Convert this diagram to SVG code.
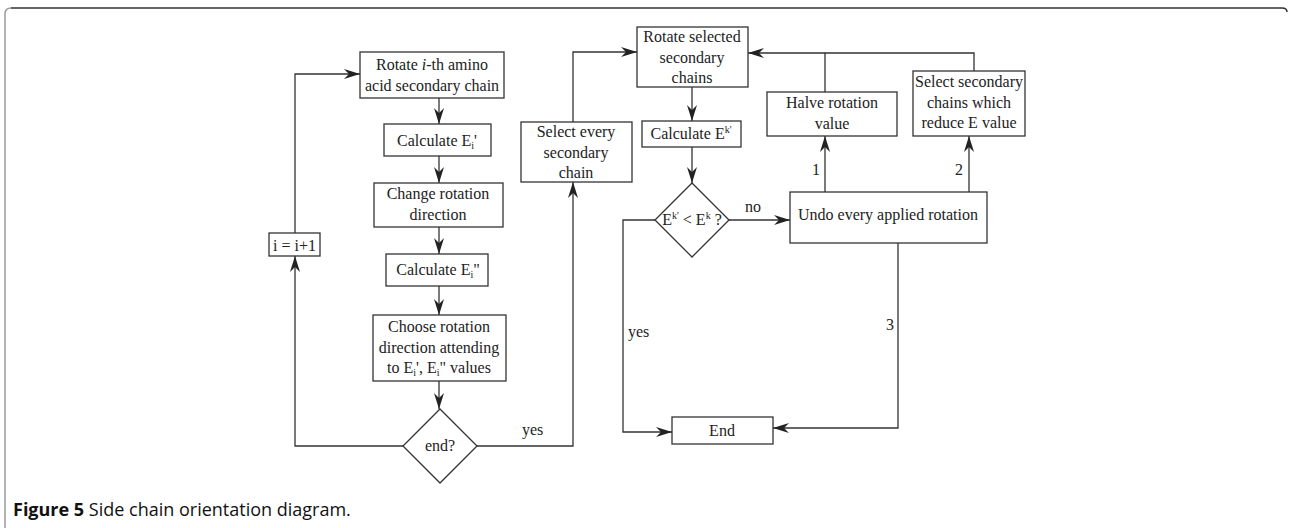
<svg xmlns="http://www.w3.org/2000/svg" width="1289" height="528" viewBox="0 0 1289 528">
<style>
.box{fill:#fff;stroke:#333;stroke-width:1.3}
.t{font-family:"Liberation Serif","Times New Roman",serif;font-size:16px;fill:#222;text-anchor:middle}
.l{font-family:"Liberation Serif","Times New Roman",serif;font-size:16px;fill:#222}
.c{fill:none;stroke:#333;stroke-width:1.3}
.s{font-size:10px}
.cap{font-family:"Open Sans","Noto Sans",sans-serif;font-size:18px;fill:#111}
</style>
<defs>
<marker id="ah" viewBox="0 0 16 10" refX="16" refY="5" markerWidth="16" markerHeight="10" markerUnits="userSpaceOnUse" orient="auto">
<path d="M0,0 L16,5 L0,10 L5,5 z" fill="#222"/>
</marker>
</defs>
<rect width="1289" height="528" fill="#fff"/>
<g id="frame">
<path d="M5,528 V14 Q5,8 11,8" fill="none" stroke="#999" stroke-width="1.5"/>
<path d="M11,8 H1282 Q1287,8 1287,12" fill="none" stroke="#333" stroke-width="1.5"/>
</g>
<g id="connectors">
<line class="c" x1="439" y1="98" x2="439" y2="124" marker-end="url(#ah)"/>
<line class="c" x1="439" y1="156" x2="439" y2="183" marker-end="url(#ah)"/>
<line class="c" x1="439" y1="227" x2="439" y2="254" marker-end="url(#ah)"/>
<line class="c" x1="439" y1="286" x2="439" y2="315" marker-end="url(#ah)"/>
<line class="c" x1="439" y1="381" x2="439" y2="409" marker-end="url(#ah)"/>
<polyline class="c" points="403,446 295,446 295,256" marker-end="url(#ah)"/>
<polyline class="c" points="295,233 295,74 360,74" marker-end="url(#ah)"/>
<polyline class="c" points="477,446 573,446 573,182" marker-end="url(#ah)"/>
<polyline class="c" points="573,122 573,52 637,52" marker-end="url(#ah)"/>
<line class="c" x1="692" y1="87" x2="692" y2="121" marker-end="url(#ah)"/>
<line class="c" x1="692" y1="147" x2="692" y2="183" marker-end="url(#ah)"/>
<line class="c" x1="728" y1="220" x2="790" y2="220" marker-end="url(#ah)"/>
<polyline class="c" points="655,220 623,220 623,432 672,432" marker-end="url(#ah)"/>
<line class="c" x1="825" y1="192" x2="825" y2="136" marker-end="url(#ah)"/>
<line class="c" x1="969" y1="192" x2="969" y2="136" marker-end="url(#ah)"/>
<polyline class="c" points="825,92 825,53 748,53" marker-end="url(#ah)"/>
<polyline class="c" points="974,71 974,53 825,53"/>
<polyline class="c" points="898,243 898,428 773,428" marker-end="url(#ah)"/>
<text class="l" x="522" y="435">yes</text>
<text class="l" x="745" y="212">no</text>
<text class="l" x="628" y="337">yes</text>
<text class="l" x="812" y="175">1</text>
<text class="l" x="955" y="175">2</text>
<text class="l" x="886" y="330">3</text>
</g>
<g id="n-rotate-i">
<rect class="box" x="360" y="52" width="144" height="46"/>
<text class="t" x="432" y="70">Rotate <tspan font-style="italic">i</tspan>-th amino</text>
<text class="t" x="432" y="91">acid secondary chain</text>
</g>
<g id="n-calc-e1">
<rect class="box" x="384" y="124" width="107" height="32"/>
<text class="t" x="437" y="146">Calculate E<tspan class="s" dy="3">i</tspan><tspan dy="-3">'</tspan></text>
</g>
<g id="n-change">
<rect class="box" x="374" y="183" width="129" height="44"/>
<text class="t" x="438" y="199">Change rotation</text>
<text class="t" x="438" y="220">direction</text>
</g>
<g id="n-calc-e2">
<rect class="box" x="386" y="254" width="102" height="32"/>
<text class="t" x="438" y="275">Calculate E<tspan class="s" dy="3">i</tspan><tspan dy="-3">"</tspan></text>
</g>
<g id="n-choose">
<rect class="box" x="373" y="315" width="133" height="66"/>
<text class="t" x="439" y="332">Choose rotation</text>
<text class="t" x="439" y="353">direction attending</text>
<text class="t" x="439" y="373">to E<tspan class="s" dy="3">i</tspan><tspan dy="-3">',  E</tspan><tspan class="s" dy="3">i</tspan><tspan dy="-3">" values</tspan></text>
</g>
<g id="n-end-q">
<polygon class="box" points="440,409 477,446 440,483 403,446"/>
<text class="t" x="440" y="451">end?</text>
</g>
<g id="n-inc">
<rect class="box" x="269" y="233" width="51" height="23"/>
<text class="t" x="294.5" y="251">i = i+1</text>
</g>
<g id="n-select-every">
<rect class="box" x="521" y="122" width="111" height="60"/>
<text class="t" x="576" y="137">Select every</text>
<text class="t" x="576" y="158">secondary</text>
<text class="t" x="576" y="178">chain</text>
</g>
<g id="n-rotate-sel">
<rect class="box" x="637" y="27" width="111" height="60"/>
<text class="t" x="692" y="42">Rotate selected</text>
<text class="t" x="692" y="63">secondary</text>
<text class="t" x="692" y="83">chains</text>
</g>
<g id="n-calc-ek">
<rect class="box" x="642" y="121" width="99" height="26"/>
<text class="t" x="691" y="139">Calculate E<tspan class="s" dy="-6">k'</tspan></text>
</g>
<g id="n-cmp">
<polygon class="box" points="692,183 729,220 692,257 655,220"/>
<text class="t" x="692" y="225">E<tspan class="s" dy="-6">k'</tspan><tspan dy="6"> &lt; E</tspan><tspan class="s" dy="-6">k</tspan><tspan dy="6"> ?</tspan></text>
</g>
<g id="n-undo">
<rect class="box" x="790" y="192" width="197" height="51"/>
<text class="t" x="888" y="220">Undo every applied rotation</text>
</g>
<g id="n-halve">
<rect class="box" x="767" y="92" width="130" height="44"/>
<text class="t" x="832" y="108">Halve rotation</text>
<text class="t" x="832" y="129">value</text>
</g>
<g id="n-select-reduce">
<rect class="box" x="913" y="71" width="112" height="65"/>
<text class="t" x="969" y="87">Select secondary</text>
<text class="t" x="969" y="108">chains which</text>
<text class="t" x="969" y="128">reduce E value</text>
</g>
<g id="n-end">
<rect class="box" x="672" y="417" width="101" height="27"/>
<text class="t" x="722" y="436">End</text>
</g>
<text class="cap" x="13" y="516"><tspan font-weight="bold">Figure 5</tspan> Side chain orientation diagram.</text>
</svg>
